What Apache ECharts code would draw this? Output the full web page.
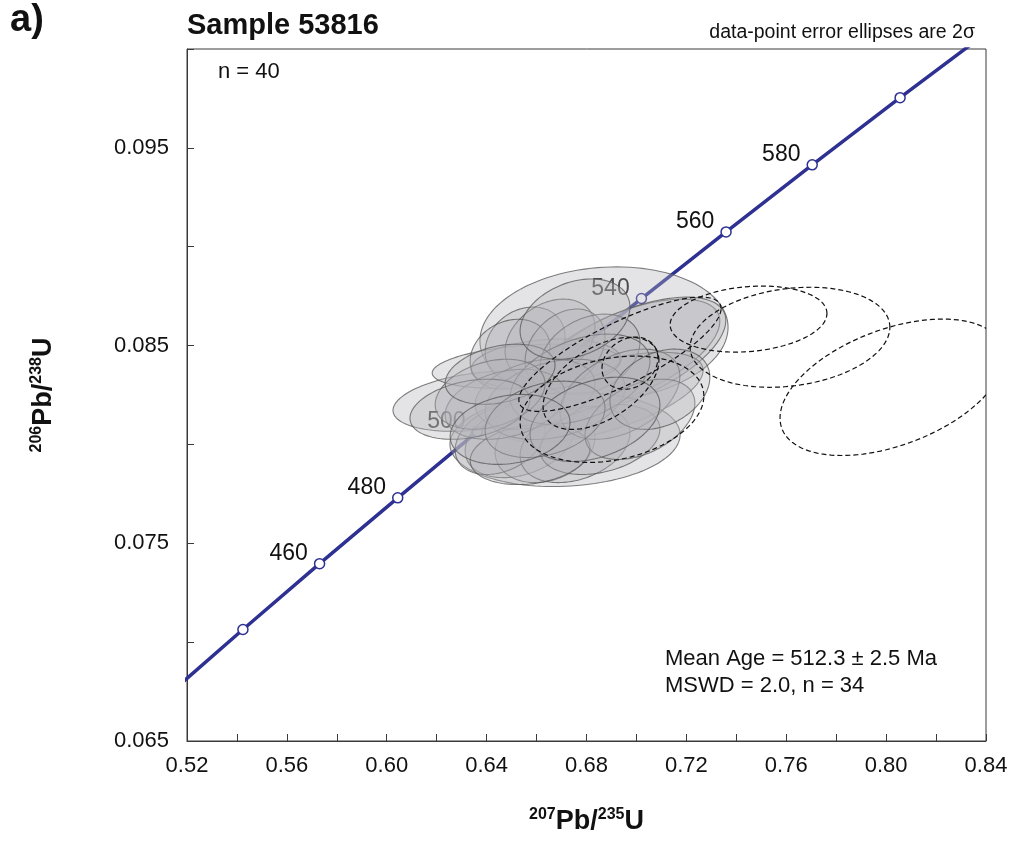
<!DOCTYPE html>
<html>
<head>
<meta charset="utf-8">
<script src="https://cdn.jsdelivr.net/npm/echarts@6/dist/echarts.min.js"></script>
<style>html,body{margin:0;padding:0;background:#fff}#c{width:1011px;height:841px}</style>
</head>
<body>
<div id="c"></div>
<script>
// Concordia curve points (age in Ma, 207Pb/235U, 206Pb/238U)
const concordiaAge = [420, 440, 460, 480, 500, 520, 540, 560, 580, 600, 620];
const concordiaX = [0.5123, 0.5424, 0.5731, 0.6044, 0.6363, 0.6688, 0.7020, 0.7359, 0.7704, 0.8056, 0.8416];
const concordiaY = [0.06732, 0.07064, 0.07397, 0.07730, 0.08065, 0.08401, 0.08738, 0.09075, 0.09414, 0.09754, 0.10095];
// Age marks drawn on the curve and their labels
const markAges = [440, 460, 480, 500, 520, 540, 560, 580, 600];
const markLabels = ['', '460', '480', '500', '', '540', '560', '580', ''];

// Accepted analyses (2-sigma ellipses): centre, half-widths, error correlation
const accX = [0.6870, 0.6954, 0.6966, 0.6854, 0.6369, 0.6558, 0.6638, 0.6714, 0.6534, 0.6634, 0.6454, 0.6754, 0.6854, 0.6574, 0.6554, 0.6654, 0.6494, 0.6714, 0.6814, 0.6594, 0.6674, 0.6474, 0.6934, 0.6774, 0.6414, 0.6333, 0.7014, 0.7094, 0.6454, 0.6634, 0.6834, 0.6754, 0.6494];
const accY = [0.08558, 0.08456, 0.08451, 0.08238, 0.08218, 0.08395, 0.08406, 0.08025, 0.08025, 0.08000, 0.08025, 0.08000, 0.08025, 0.07949, 0.08507, 0.08532, 0.08456, 0.08482, 0.08456, 0.08254, 0.08228, 0.08203, 0.08254, 0.08330, 0.08254, 0.08178, 0.08127, 0.08279, 0.08355, 0.08127, 0.08127, 0.08634, 0.08076];
const accErrX = [0.0497, 0.0380, 0.0392, 0.0413, 0.0344, 0.0376, 0.0300, 0.0461, 0.0220, 0.0200, 0.0180, 0.0220, 0.0240, 0.0240, 0.0160, 0.0180, 0.0160, 0.0160, 0.0200, 0.0240, 0.0280, 0.0240, 0.0240, 0.0280, 0.0220, 0.0240, 0.0220, 0.0200, 0.0220, 0.0240, 0.0260, 0.0220, 0.0240];
const accErrY = [0.00340, 0.00279, 0.00294, 0.00228, 0.00152, 0.00112, 0.00127, 0.00238, 0.00193, 0.00193, 0.00177, 0.00193, 0.00177, 0.00152, 0.00188, 0.00203, 0.00177, 0.00203, 0.00203, 0.00177, 0.00203, 0.00177, 0.00228, 0.00228, 0.00177, 0.00152, 0.00203, 0.00203, 0.00152, 0.00193, 0.00213, 0.00203, 0.00177];
const accRho = [0.10, 0.60, 0.60, 0.60, 0.30, 0.30, 0.20, 0.10, 0.30, 0.20, 0.30, 0.30, 0.30, 0.20, 0.20, 0.30, 0.20, 0.30, 0.30, 0.30, 0.30, 0.30, 0.40, 0.40, 0.30, 0.30, 0.40, 0.30, 0.30, 0.30, 0.35, 0.30, 0.20];

// Rejected analyses (dashed ellipses)
const rejX = [0.8024, 0.7449, 0.7615, 0.6858, 0.6902, 0.6934, 0.6974];
const rejY = [0.08289, 0.08634, 0.08542, 0.08309, 0.08178, 0.08456, 0.08411];
const rejErrX = [0.0449, 0.0314, 0.0400, 0.0232, 0.0368, 0.0405, 0.0112];
const rejErrY = [0.00345, 0.00167, 0.00253, 0.00233, 0.00269, 0.00289, 0.00132];
const rejRho = [0.45, 0.17, 0.20, 0.50, 0.25, 0.80, 0.20];

const FONT = '"Liberation Sans", Arial, sans-serif';
const NAVY = '#2E3192';

function ellipseRenderer(fill, stroke, width, dash) {
  return function (params, api) {
    const cx = api.value(0), cy = api.value(1), ex = api.value(2), ey = api.value(3), r = api.value(4);
    const s = Math.sqrt(1 - r * r);
    const pts = [];
    const N = 120;
    for (let k = 0; k < N; k++) {
      const t = 2 * Math.PI * k / N;
      pts.push(api.coord([cx + ex * Math.cos(t), cy + ey * (r * Math.cos(t) + s * Math.sin(t))]));
    }
    return {
      type: 'polygon',
      shape: { points: pts },
      style: { fill: fill, stroke: stroke, lineWidth: width, lineDash: dash }
    };
  };
}

const concordiaData = concordiaX.map((x, i) => [x, concordiaY[i]]);
const markData = markAges.map((a, i) => {
  const j = concordiaAge.indexOf(a);
  return { name: markLabels[i], value: [concordiaX[j], concordiaY[j]], label: { show: markLabels[i] !== '' } };
});
const accData = accX.map((x, i) => [x, accY[i], accErrX[i], accErrY[i], accRho[i]]);
const rejData = rejX.map((x, i) => [x, rejY[i], rejErrX[i], rejErrY[i], rejRho[i]]);

const nameRich = {
  s: { fontSize: 16, fontWeight: 'bold', fontFamily: FONT, color: '#111', verticalAlign: 'top', lineHeight: 16 },
  b: { fontSize: 27, fontWeight: 'bold', fontFamily: FONT, color: '#111', lineHeight: 30 }
};

const chart = echarts.init(document.getElementById('c'), null, { renderer: 'canvas' });
chart.setOption({
  animation: false,
  backgroundColor: '#fff',
  grid: { left: 187, right: 25, top: 49, bottom: 100, show: true, borderColor: '#3a3a3a', borderWidth: 1, backgroundColor: 'transparent' },
  xAxis: {
    type: 'value', min: 0.52, max: 0.84, interval: 0.02,
    axisLine: { show: true, onZero: false, lineStyle: { color: '#3a3a3a', width: 1 } },
    axisTick: { show: true, inside: true, length: 7, lineStyle: { color: '#3a3a3a' } },
    splitLine: { show: false },
    axisLabel: {
      color: '#111', fontSize: 22, fontFamily: FONT, margin: 14, showMaxLabel: true, showMinLabel: true,
      formatter: v => (Math.round((v - 0.52) / 0.02) % 2 === 0 ? v.toFixed(2) : '')
    },
    name: '{s|207}{b|Pb/}{s|235}{b|U}', nameLocation: 'middle', nameGap: 66,
    nameTextStyle: { rich: nameRich }
  },
  yAxis: {
    type: 'value', min: 0.065, max: 0.1, interval: 0.005,
    axisLine: { show: true, onZero: false, lineStyle: { color: '#3a3a3a', width: 1 } },
    axisTick: { show: true, inside: true, length: 7, lineStyle: { color: '#3a3a3a' } },
    splitLine: { show: false },
    axisLabel: {
      color: '#111', fontSize: 22, fontFamily: FONT, margin: 18,
      formatter: v => (Math.round((v - 0.065) / 0.005) % 2 === 0 ? v.toFixed(3) : '')
    },
    name: '{s|206}{b|Pb/}{s|238}{b|U}', nameLocation: 'middle', nameGap: 128, nameRotate: 90,
    nameTextStyle: { rich: nameRich }
  },
  graphic: [
    { type: 'text', left: 10, top: 2, style: { text: 'a)', font: 'bold 38px ' + FONT, fill: '#111' } },
    { type: 'text', left: 187, top: 11, style: { text: 'Sample 53816', font: 'bold 29px ' + FONT, fill: '#111' } },
    { type: 'text', right: 36, top: 23, style: { text: 'data-point error ellipses are 2σ', font: '19.5px ' + FONT, fill: '#111' } },
    { type: 'text', left: 218, top: 61, style: { text: 'n = 40', font: '22px ' + FONT, fill: '#111' } },
    { type: 'text', left: 665, top: 648, style: { text: 'Mean Age = 512.3 ± 2.5 Ma', font: '22px ' + FONT, fill: '#111' } },
    { type: 'text', left: 665, top: 675, style: { text: 'MSWD = 2.0, n = 34', font: '22px ' + FONT, fill: '#111' } }
  ],
  series: [
    {
      type: 'line', data: concordiaData, symbol: 'none', silent: true, clip: true, z: 2,
      lineStyle: { color: NAVY, width: 3.5 }
    },
    {
      type: 'scatter', data: markData, symbol: 'circle', symbolSize: 10, z: 3, clip: true,
      itemStyle: { color: '#fff', borderColor: NAVY, borderWidth: 1.5, opacity: 1 },
      label: { show: true, position: 'left', distance: 6, offset: [0, -10], formatter: p => p.name, color: '#111', fontSize: 23, fontFamily: FONT }
    },
    {
      type: 'custom', data: accData, encode: { x: 0, y: 1 }, z: 4, clip: true,
      renderItem: ellipseRenderer('rgba(180,180,185,0.36)', 'rgba(85,85,85,0.75)', 1.1, null)
    },
    {
      type: 'custom', data: rejData, encode: { x: 0, y: 1 }, z: 5, clip: true,
      renderItem: ellipseRenderer('none', '#111', 1.2, [5, 3])
    }
  ]
});
</script>
</body>
</html>
